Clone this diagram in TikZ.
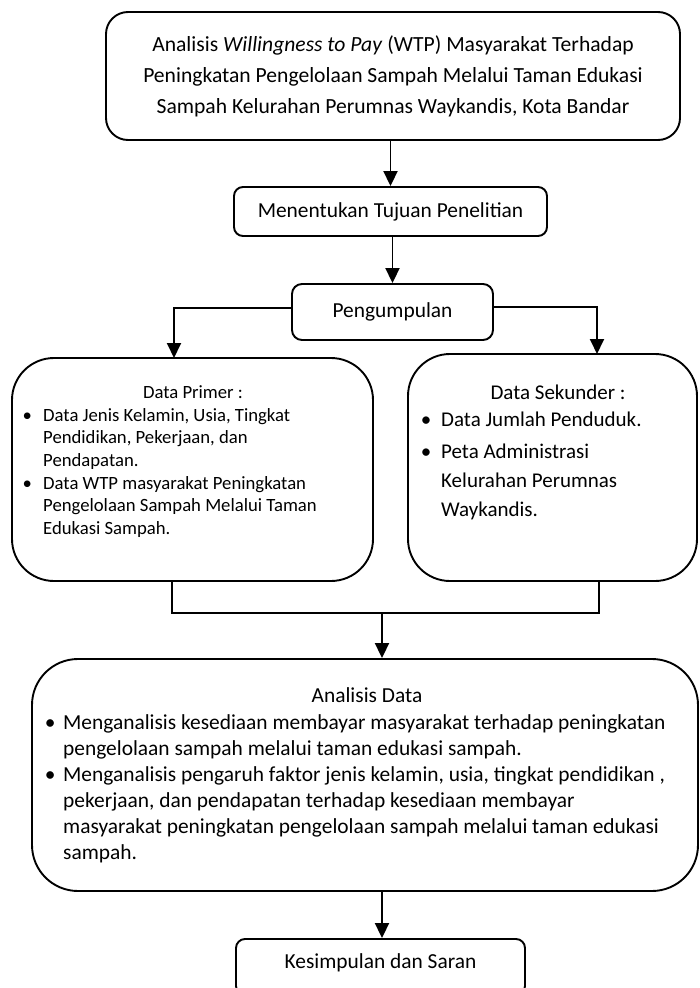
\documentclass[tikz,border=0pt]{standalone}
\usepackage{fontspec}
\setmainfont{Carlito}
\usetikzlibrary{arrows.meta}
\newcommand{\fs}[2]{\fontsize{#1pt}{#2pt}\selectfont}
\newcommand{\bulw}[1]{\makebox[#1pt]{\textbullet}}
\begin{document}
\begin{tikzpicture}[x=1pt,y=-1pt,
  box/.style={draw, line width=1.9pt, inner sep=0pt, align=center},
  conn/.style={line width=1.9pt},
  arr/.style={conn, -{Triangle[length=15pt,width=14pt]}},
  every node/.style={font=\fs{21.4}{26}}]
\fill[white] (0,0) rectangle (699,988);
\useasboundingbox (0,0) rectangle (699,988);

\node[box, rounded corners=22pt, minimum width=574pt, minimum height=128pt, font=\fs{21.6}{31}] (top) at (393,76)
  {Analisis \textit{Willingness to Pay} (WTP) Masyarakat Terhadap\\Peningkatan Pengelolaan Sampah Melalui Taman Edukasi\\Sampah Kelurahan Perumnas Waykandis, Kota Bandar};
\node[box, rounded corners=9pt, minimum width=313pt, minimum height=49pt] (goal) at (390.5,211.5) {Menentukan Tujuan Penelitian};
\node[box, rounded corners=10pt, minimum width=201pt, minimum height=56pt] (collect) at (392.5,312) {Pengumpulan};
\node[box, rounded corners=42pt, minimum width=361pt, minimum height=223pt] (primer) at (192.5,469.5) {};
\node[box, rounded corners=42pt, minimum width=289pt, minimum height=227pt] (sekunder) at (552.5,467.5) {};
\node[box, rounded corners=46pt, minimum width=666pt, minimum height=232pt] (analisis) at (365,775) {};
\node[box, rounded corners=9pt, minimum width=289pt, minimum height=56pt] (kes) at (380.5,967) {};
\node (kestxt) at (380.5,963) {Kesimpulan dan Saran};

\node[font=\fs{18.7}{22.7}] (primerT) at (193,392) {Data Primer :};
\node[font=\fs{18.7}{22.7}, anchor=base west, inner sep=0pt] (primerL) at (11,421)
  {\begin{tabular}[t]{@{}l@{}l@{}}\bulw{32}&Data Jenis Kelamin, Usia, Tingkat\\
   &Pendidikan, Pekerjaan, dan\\
   &Pendapatan.\\
   \bulw{32}&Data WTP masyarakat Peningkatan\\
   &Pengelolaan Sampah Melalui Taman\\
   &Edukasi Sampah.\end{tabular}};

\node[font=\fs{21}{29}] (sekT) at (558,392) {Data Sekunder :};
\node[font=\fs{21}{29}, anchor=base west, inner sep=0pt] (sekL) at (411,426)
  {\begin{tabular}[t]{@{}l@{}l@{}}\bulw{30}&Data Jumlah Penduduk.\\[3pt]
   \bulw{30}&Peta Administrasi\\
   &Kelurahan Perumnas\\
   &Waykandis.\end{tabular}};

\node (anT) at (367,695) {Analisis Data};
\node[anchor=base west, inner sep=0pt] (anL) at (37,729)
  {\begin{tabular}[t]{@{}l@{}l@{}}\bulw{26}&Menganalisis kesediaan membayar masyarakat terhadap peningkatan\\
   &pengelolaan sampah melalui taman edukasi sampah.\\
   \bulw{26}&Menganalisis pengaruh faktor jenis kelamin, usia, tingkat pendidikan ,\\
   &pekerjaan, dan pendapatan terhadap kesediaan membayar\\
   &masyarakat peningkatan pengelolaan sampah melalui taman edukasi\\
   &sampah.\end{tabular}};

\draw[arr] (goal.north |- top.south) -- (goal.north);
\draw[arr] (collect.north |- goal.south) -- (collect.north);
\coordinate (pl) at (174,358);
\coordinate (sr) at (597,354);
\draw[arr] ([yshift=4pt]collect.west) -| (pl);
\draw[arr] ([yshift=5pt]collect.east) -| (sr);
\coordinate (ml) at (172,613);
\coordinate (mr) at (599,613);
\coordinate (mm) at (382,613);
\draw[conn] (ml |- primer.south) -- (ml) -- (mr) -- (mr |- sekunder.south);
\draw[arr] (mm) -- (mm |- analisis.north);
\draw[arr] (mm |- analisis.south) -- (mm |- kes.north);
\end{tikzpicture}
\end{document}
